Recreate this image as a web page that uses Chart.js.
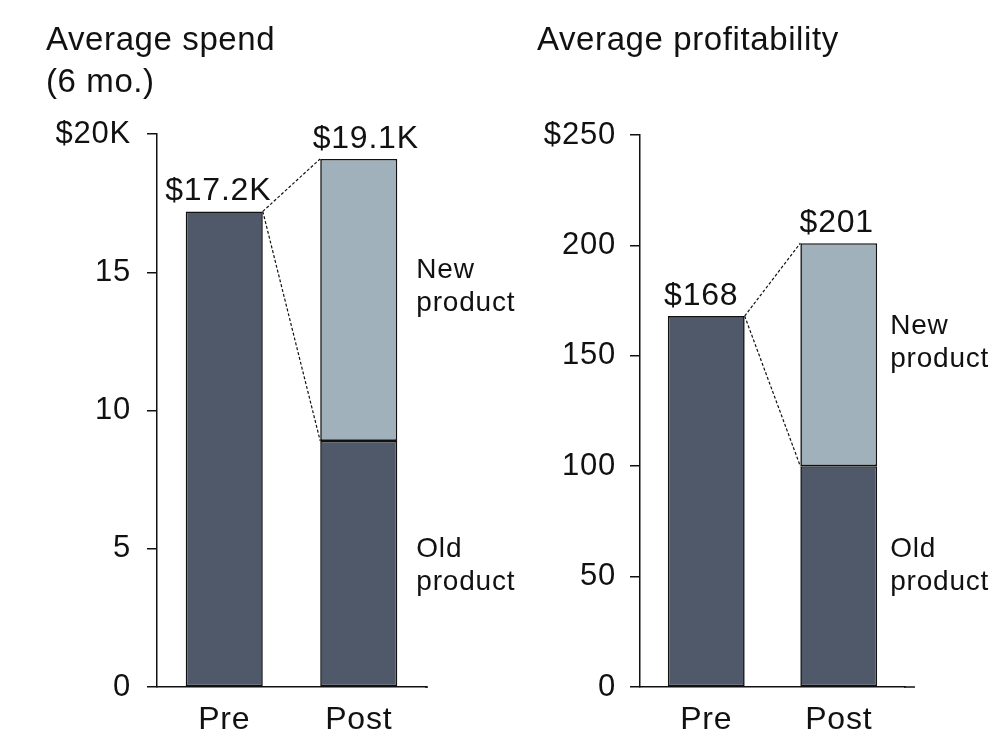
<!DOCTYPE html>
<html>
<head>
<meta charset="utf-8">
<script src="https://cdn.jsdelivr.net/npm/chart.js@4.4.1/dist/chart.umd.min.js"></script>
<style>
  html, body { margin: 0; padding: 0; background: #fff; }
  body { width: 1000px; height: 756px; position: relative; overflow: hidden; font-family: "Liberation Sans", Arial, sans-serif; color: #111; }
  .title { position: absolute; font-size: 33px; line-height: 42px; letter-spacing: 0.6px; white-space: nowrap; z-index: 2; }
  .wrap { position: absolute; top: 0; left: 0; width: 1000px; height: 756px; }
</style>
</head>
<body>
<div class="title" style="left:46px; top:18px;">Average spend<br>(6 mo.)</div>
<div class="title" style="left:537px; top:18px;">Average profitability</div>
<div class="wrap"><canvas id="c1" width="1000" height="756"></canvas></div>
<div class="wrap"><canvas id="c2" width="1000" height="756"></canvas></div>
<script>
// ---- data ----
const categories = ['Pre', 'Post'];
const spendOld = [17.2, 8.9];
const spendNew = [null, 10.2];
const spendValueLabels = ['$17.2K', '$19.1K'];
const spendTickLabels = ['0', '5', '10', '15', '$20K'];
const profitOld = [168, 100];
const profitNew = [null, 101];
const profitValueLabels = ['$168', '$201'];
const profitTickLabels = ['0', '50', '100', '150', '200', '$250'];
const segmentLabels = [['Old', 'product'], ['New', 'product']];

const FONT = '"Liberation Sans", Arial, sans-serif';
const OLD_COLOR = '#4f5969';
const NEW_COLOR = '#a0b1bc';
const INK = '#111111';

function makeChart(id, cfg) {
  const annot = {
    id: 'annot' + id,
    beforeDraw(chart) {
      try { chart.ctx.letterSpacing = '0.8px'; } catch (e) {}
    },
    afterDatasetsDraw(chart) {
      const ctx = chart.ctx;
      const y = chart.scales.y;
      const m0 = chart.getDatasetMeta(0).data;
      ctx.save();
      // extend baseline
      ctx.strokeStyle = INK; ctx.lineWidth = 1.5;
      ctx.beginPath();
      ctx.moveTo(chart.chartArea.right - 1, chart.chartArea.bottom);
      ctx.lineTo(chart.chartArea.right + cfg.baseExt, chart.chartArea.bottom);
      ctx.stroke();
      // value labels
      ctx.fillStyle = INK;
      ctx.font = '32px ' + FONT;
      ctx.textAlign = 'center';
      ctx.textBaseline = 'bottom';
      for (let i = 0; i < categories.length; i++) {
        const total = (cfg.old[i] || 0) + (cfg.neu[i] || 0);
        const bx = m0[i].x + cfg.labelShift[i];
        ctx.fillText(cfg.valueLabels[i], bx, y.getPixelForValue(total) - 4);
      }
      // connectors
      const pre = m0[0], postOld = m0[1];
      const preRight = pre.x + pre.width / 2;
      const preTop = y.getPixelForValue(cfg.old[0]);
      const postLeft = postOld.x - postOld.width / 2;
      ctx.setLineDash([3, 2]);
      ctx.lineWidth = 1.2;
      ctx.beginPath();
      ctx.moveTo(preRight, preTop);
      ctx.lineTo(postLeft, y.getPixelForValue(cfg.old[1] + cfg.neu[1]));
      ctx.moveTo(preRight, preTop);
      ctx.lineTo(postLeft, y.getPixelForValue(cfg.old[1]));
      ctx.stroke();
      ctx.setLineDash([]);
      // segment labels
      ctx.font = '28px ' + FONT;
      ctx.textAlign = 'left';
      ctx.textBaseline = 'middle';
      const tx = postOld.x + postOld.width / 2 + cfg.segGap;
      const oldMid = (y.getPixelForValue(0) + y.getPixelForValue(cfg.old[1])) / 2;
      const newMid = (y.getPixelForValue(cfg.old[1]) + y.getPixelForValue(cfg.old[1] + cfg.neu[1])) / 2;
      const mids = [oldMid + cfg.segOff[0], newMid + cfg.segOff[1]];
      for (let s = 0; s < 2; s++) {
        ctx.fillText(segmentLabels[s][0], tx, mids[s] - 17);
        ctx.fillText(segmentLabels[s][1], tx, mids[s] + 16);
      }
      ctx.restore();
    }
  };
  return new Chart(document.getElementById(id), {
    type: 'bar',
    data: {
      labels: categories,
      datasets: [
        { label: 'Old product', data: cfg.old, backgroundColor: OLD_COLOR, borderColor: INK, borderWidth: 1.6, borderSkipped: false, barPercentage: cfg.barPct, categoryPercentage: 1 },
        { label: 'New product', data: cfg.neu, backgroundColor: NEW_COLOR, borderColor: INK, borderWidth: 1.6, borderSkipped: false, barPercentage: cfg.barPct, categoryPercentage: 1 }
      ]
    },
    options: {
      responsive: false,
      animation: false,
      events: [],
      layout: { padding: { left: cfg.padLeft, top: cfg.top, right: cfg.right, bottom: 0 } },
      plugins: { legend: { display: false }, tooltip: { enabled: false }, title: { display: false } },
      scales: {
        x: {
          stacked: true,
          grid: { display: false, drawTicks: false },
          border: { display: true, color: INK, width: 1.5 },
          ticks: { color: INK, font: { family: FONT, size: 32 }, padding: 14 },
          afterFit: s => { s.height = 756 - cfg.bottom; }
        },
        y: {
          stacked: true,
          min: 0, max: cfg.max,
          ticks: {
            stepSize: cfg.step,
            color: INK,
            font: { family: FONT, size: cfg.tickSize },
            padding: cfg.tickPad,
            callback: (v, i) => cfg.tickLabels[i]
          },
          grid: { drawOnChartArea: false, drawTicks: true, tickLength: 10, color: INK, lineWidth: 1.5 },
          border: { display: true, color: INK, width: 1.5 },
          afterFit: s => { s.width = cfg.left - cfg.padLeft; }
        }
      }
    },
    plugins: [annot]
  });
}

makeChart('c1', {
  old: spendOld, neu: spendNew, valueLabels: spendValueLabels, tickLabels: spendTickLabels,
  max: 20, step: 5, padLeft: 0, left: 157, top: 134, right: 1000 - 426, bottom: 687, barPct: 0.573, baseExt: 2,
  tickSize: 31, tickPad: 16, segGap: 19, segOff: [2, -13], labelShift: [-6, 7]
});
makeChart('c2', {
  old: profitOld, neu: profitNew, valueLabels: profitValueLabels, tickLabels: profitTickLabels,
  max: 250, step: 50, padLeft: 500, left: 640, top: 135, right: 1000 - 905, bottom: 687, barPct: 0.58, baseExt: 10,
  tickSize: 31, tickPad: 14, segGap: 13, segOff: [-10, -11], labelShift: [-5, -2]
});
</script>
</body>
</html>
